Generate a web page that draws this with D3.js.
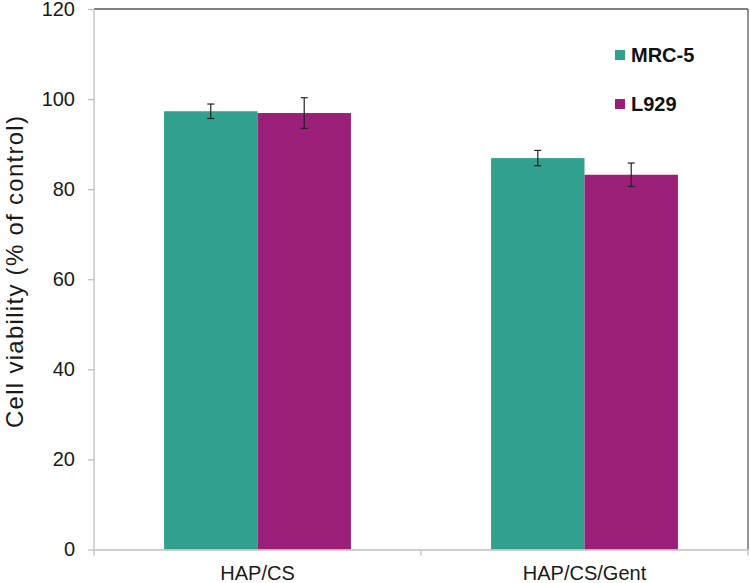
<!DOCTYPE html>
<html>
<head>
<meta charset="utf-8">
<script src="https://cdn.jsdelivr.net/npm/d3@7"></script>
<style>
  body { margin: 0; background: #fff; }
  svg { display: block; font-family: Arial, "Liberation Sans", sans-serif; }
</style>
</head>
<body>
<svg id="chart" width="750" height="583"></svg>
<script>
// data
const categories = ['HAP/CS', 'HAP/CS/Gent']
const seriesNames = ['MRC-5', 'L929']
const mrc5Values = [97.3, 86.9]
const mrc5Errors = [1.6, 1.7]
const l929Values = [96.9, 83.2]
const l929Errors = [3.4, 2.6]
const yTicks = [0, 20, 40, 60, 80, 100, 120]

const colors = { 'MRC-5': '#32a08f', 'L929': '#9b1f78' }

const series = [
  { name: 'MRC-5', values: mrc5Values, errors: mrc5Errors },
  { name: 'L929', values: l929Values, errors: l929Errors },
]

const svg = d3.select('#chart')
const margin = { left: 94, right: 2, top: 9, bottom: 32 }
const width = 750
const height = 583

const x = d3.scaleBand()
  .domain(categories)
  .range([margin.left, width - margin.right])
  .paddingInner(0)
  .paddingOuter(0)

// Excel-style gap width of 150%: two bars + 1.5 bar widths of gap per category
const xSeries = d3.scaleBand()
  .domain(seriesNames)
  .range([0, x.bandwidth()])
  .paddingOuter(0.75)
  .paddingInner(0)

const y = d3.scaleLinear()
  .domain([0, 120])
  .range([height - margin.bottom - 1.5, margin.top])

const plotRight = width - margin.right

// frame: top and right darker, left and bottom light grey
svg.append('line')
  .attr('x1', margin.left).attr('x2', plotRight)
  .attr('y1', y(120)).attr('y2', y(120))
  .attr('stroke', '#595959').attr('stroke-width', 1.3)
svg.append('line')
  .attr('x1', plotRight).attr('x2', plotRight)
  .attr('y1', y(120)).attr('y2', y(0))
  .attr('stroke', '#595959').attr('stroke-width', 1.3)

// y axis
const yAxis = d3.axisLeft(y).tickValues(yTicks).tickSize(6).tickPadding(13)
const gy = svg.append('g')
  .attr('transform', `translate(${margin.left},0)`)
  .call(yAxis)
gy.select('.domain').attr('stroke', '#bfbfbf').attr('stroke-width', 1.3)
  .attr('d', `M0,${y(120)}V${y(0) + 6}`)
gy.selectAll('.tick line').attr('stroke', '#bfbfbf').attr('stroke-width', 1.3)
gy.selectAll('.tick text')
  .attr('font-size', 20).attr('fill', '#1a1a1a')
  .attr('font-family', 'Arial, "Liberation Sans", sans-serif')

// bars
const groups = svg.append('g').selectAll('g')
  .data(series)
  .join('g')
  .attr('fill', d => colors[d.name])

groups.selectAll('rect')
  .data(d => d.values.map((v, i) => ({ name: d.name, cat: categories[i], value: v })))
  .join('rect')
  .attr('x', d => x(d.cat) + xSeries(d.name))
  .attr('width', xSeries.bandwidth())
  .attr('y', d => y(d.value))
  .attr('height', d => y(0) - y(d.value))

// x axis (drawn over bars' base)
const xAxis = d3.axisBottom(x).tickSize(0).tickPadding(16)
const gx = svg.append('g')
  .attr('transform', `translate(0,${y(0)})`)
  .call(xAxis)
gx.select('.domain').attr('stroke', '#bfbfbf').attr('stroke-width', 1.3)
gx.selectAll('.tick text')
  .attr('font-size', 20).attr('fill', '#1a1a1a')
  .attr('font-family', 'Arial, "Liberation Sans", sans-serif')
// category boundary ticks
const boundaries = [x(categories[1]), plotRight]
gx.selectAll('.bound')
  .data(boundaries)
  .join('line')
  .attr('class', 'bound')
  .attr('x1', d => d).attr('x2', d => d)
  .attr('y1', 0).attr('y2', 6)
  .attr('stroke', '#bfbfbf').attr('stroke-width', 1.3)

// error bars
const errData = series.flatMap(s => s.values.map((v, i) => ({
  name: s.name, cat: categories[i], value: v, err: s.errors[i]
})))
const eg = svg.append('g').attr('stroke', '#222').attr('stroke-width', 1.2)
eg.selectAll('g')
  .data(errData)
  .join('g')
  .each(function (d) {
    const cx = x(d.cat) + xSeries(d.name) + xSeries.bandwidth() / 2
    const g = d3.select(this)
    g.append('line').attr('x1', cx).attr('x2', cx)
      .attr('y1', y(d.value + d.err)).attr('y2', y(d.value - d.err))
    g.selectAll('.cap').data([d.value + d.err, d.value - d.err]).join('line')
      .attr('x1', cx - 3.5).attr('x2', cx + 3.5)
      .attr('y1', v => y(v)).attr('y2', v => y(v))
  })

// y axis title
svg.append('text')
  .attr('transform', 'translate(23,272) rotate(-90)')
  .attr('text-anchor', 'middle')
  .attr('font-size', 24)
  .attr('textLength', 312)
  .attr('lengthAdjust', 'spacing')
  .attr('fill', '#1a1a1a')
  .text('Cell viability (% of control)')

// legend
const legend = svg.append('g').attr('transform', 'translate(615,50)')
legend.selectAll('g')
  .data(seriesNames)
  .join('g')
  .attr('transform', (d, i) => `translate(0,${i * 49})`)
  .call(g => {
    g.append('rect').attr('width', 10).attr('height', 10)
      .attr('fill', d => colors[d])
    g.append('text').attr('x', 16).attr('y', 12)
      .attr('font-size', 20).attr('font-weight', 'bold')
      .attr('fill', '#111')
      .text(d => d)
  })
</script>
</body>
</html>
